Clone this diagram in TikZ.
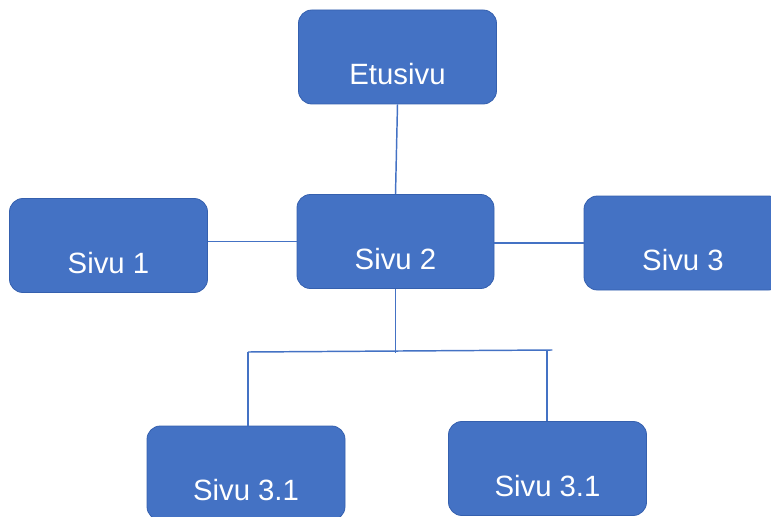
\documentclass[tikz,border=0pt]{standalone}
\usepackage{fontspec}
\setmainfont{Liberation Sans}
\usepackage{tikz}

\definecolor{pageblue}{HTML}{4472C4}
\definecolor{pageedge}{HTML}{3560AE}

\begin{document}
\begin{tikzpicture}[x=0.75pt,y=-0.75pt]
\tikzstyle{every node}+=[inner sep=0pt]
\tikzstyle{page}=[rectangle, rounded corners=10pt, fill=pageblue, draw=pageedge, line width=0.6pt,
  minimum width=148.5pt, text height=55.9pt, text depth=14.6pt,
  text=white, font=\fontsize{22}{26}\selectfont]
\tikzstyle{link}=[draw=pageblue, line width=1.1pt]
\useasboundingbox (0,0) rectangle (771,517);
% pages
\node [page] (etu) at (397.5,57) {Etusivu};
\node [page] (s1) at (108.5,245.5) {Sivu 1};
\node [page, minimum width=147.75pt] (s2) at (395.5,241.5) {Sivu 2};
\node [page] (s3) at (683,243) {Sivu 3};
\node [page] (s31a) at (246,473) {Sivu 3.1};
\node [page] (s31b) at (547.5,468.5) {Sivu 3.1};
% branch points
\coordinate (jl) at (248,352);
\coordinate (jr) at (547,350);
% links
\draw [link] (etu.south) -- (s2.north);
\draw [link] (s1.east |- s2.west) -- (s2.west);
\draw [link] (s2.east |- s3.west) -- (s3.west);
\draw [link] (s2.south) -- ([yshift=-1pt]s2.south |- jl);
\draw [link] (jl) -- ([xshift=4pt]jr);
\draw [link] (jl) -- (jl |- s31a.north);
\draw [link] (jr) -- (jr |- s31b.north);
\end{tikzpicture}
\end{document}
